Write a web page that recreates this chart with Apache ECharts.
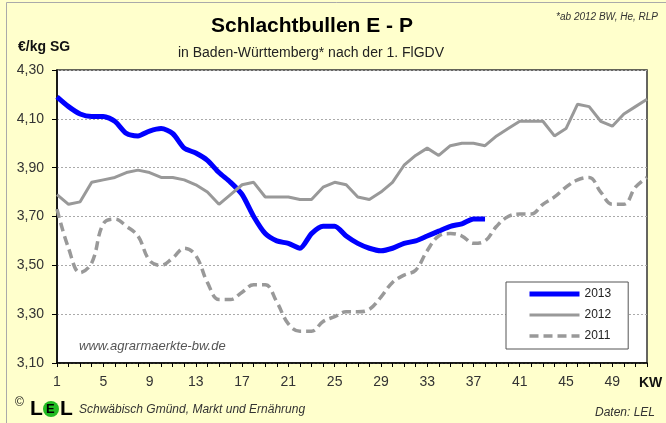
<!DOCTYPE html>
<html>
<head>
<meta charset="utf-8">
<script src="https://cdn.jsdelivr.net/npm/echarts@6/dist/echarts.min.js"></script>
<style>
html,body{margin:0;padding:0;background:#FFFFCC;}
#chart{width:666px;height:423px;}
</style>
</head>
<body>
<div id="chart"></div>
<script>
var weeks = [];
for (var i = 1; i <= 52; i++) weeks.push(String(i));

var yTicks = ['3,10','3,30','3,50','3,70','3,90','4,10','4,30'];

var data2013 = [4.19,4.15,4.12,4.11,4.11,4.09,4.04,4.03,4.05,4.06,4.04,3.98,3.96,3.93,3.88,3.84,3.79,3.70,3.63,3.60,
  3.59,3.57,3.63,3.66,3.66,3.62,3.59,3.57,3.56,3.57,3.59,3.60,3.62,3.64,3.66,3.67,3.69,3.69];

var data2012 = [3.79,3.75,3.76,3.84,3.85,3.86,3.88,3.89,3.88,3.86,3.86,3.85,3.83,3.80,3.75,3.79,3.83,3.84,3.78,3.78,
  3.78,3.77,3.77,3.82,3.84,3.83,3.78,3.77,3.80,3.84,3.91,3.95,3.98,3.95,3.99,4.00,4.00,3.99,4.03,4.06,
  4.09,4.09,4.09,4.03,4.06,4.16,4.15,4.09,4.07,4.12,4.15,4.18];

var data2011 = [3.73,3.57,3.47,3.51,3.67,3.69,3.66,3.62,3.52,3.50,3.53,3.57,3.54,3.43,3.36,3.36,3.39,3.42,3.42,3.35,
  3.26,3.23,3.23,3.27,3.29,3.31,3.31,3.32,3.37,3.43,3.46,3.48,3.56,3.62,3.63,3.62,3.59,3.60,3.66,3.70,
  3.71,3.71,3.75,3.78,3.82,3.85,3.86,3.80,3.75,3.75,3.82,3.86];

var FONT = 'Liberation Sans, Arial, sans-serif';
var chart = echarts.init(document.getElementById('chart'), null, {renderer: 'canvas'});

var option = {
  backgroundColor: '#FFFFCC',
  animation: false,
  textStyle: {fontFamily: FONT},
  grid: {left: 57, right: 19, top: 70, bottom: 60, show: true, backgroundColor: '#ffffff', borderColor: '#333333', borderWidth: 1.5},
  title: [
    {text: 'Schlachtbullen E - P', left: 307, top: 11, textAlign: 'center',
     textStyle: {fontFamily: FONT, fontSize: 21, fontWeight: 'bold', color: '#000'}},
    {text: 'in Baden-Württemberg* nach der 1. FlGDV', left: 306, top: 41, textAlign: 'center',
     textStyle: {fontFamily: FONT, fontSize: 14, fontWeight: 'normal', color: '#222'}}
  ],
  legend: {
    left: 506, top: 282, orient: 'vertical',
    backgroundColor: '#ffffff', borderColor: '#555555', borderWidth: 1,
    padding: [6, 17, 7, 21], itemWidth: 50, itemHeight: 14, itemGap: 9,
    itemStyle: {opacity: 0},
    lineStyle: {width: 'inherit'},
    textStyle: {fontFamily: FONT, fontSize: 12, color: '#222'},
    data: ['2013', '2012', '2011']
  },
  xAxis: {
    type: 'category', data: weeks, boundaryGap: false,
    axisLine: {lineStyle: {color: '#000', width: 1.5}},
    axisTick: {show: true, inside: false, length: 4, interval: 0, lineStyle: {color: '#000', width: 1}},
    axisLabel: {interval: function (idx) { return idx % 4 === 0; }, margin: 12,
      fontFamily: FONT, fontSize: 14, color: '#333'},
    splitLine: {show: false}
  },
  yAxis: {
    type: 'value', min: 3.1, max: 4.3, interval: 0.2,
    axisLine: {show: true, lineStyle: {color: '#000', width: 1.5}},
    axisTick: {show: true, inside: false, length: 5, lineStyle: {color: '#000'}},
    axisLabel: {margin: 13, fontFamily: FONT, fontSize: 14, color: '#333',
      formatter: function (v) {
        var idx = Math.round((v - 3.1) / 0.2);
        return yTicks[idx] !== undefined ? yTicks[idx] : v.toFixed(2).replace('.', ',');
      }},
    splitLine: {show: true, lineStyle: {color: '#aaa', type: [2, 2], width: 1}}
  },
  series: [
    {name: '2013', type: 'line', data: data2013, symbol: 'none', smooth: 0.25, z: 3,
     lineStyle: {color: '#0000FF', width: 5}, itemStyle: {color: '#0000FF'}},
    {name: '2012', type: 'line', data: data2012, symbol: 'none', smooth: false, z: 4,
     lineStyle: {color: '#999999', width: 3}, itemStyle: {color: '#999999'}},
    {name: '2011', type: 'line', data: data2011, symbol: 'none', smooth: 0.4, z: 5,
     lineStyle: {color: '#999999', width: 3.5, type: [9, 5]}, itemStyle: {color: '#999999'}}
  ],
  graphic: [
    {type: 'rect', z: -1, shape: {x: 6.5, y: 2.5, width: 700, height: 500}, style: {fill: 'none', stroke: '#aaaaaa', lineWidth: 1}},
    {type: 'text', left: 18, top: 40, style: {text: '€/kg SG', font: 'bold 14px ' + FONT, fill: '#111'}},
    {type: 'text', right: 8, top: 12, style: {text: '*ab 2012 BW, He, RLP', font: 'italic 10px ' + FONT, fill: '#333'}},
    {type: 'text', left: 79, top: 340, z: 10, style: {text: 'www.agrarmaerkte-bw.de', font: 'italic 13px ' + FONT, fill: '#555'}},
    {type: 'text', left: 639, top: 376, style: {text: 'KW', font: 'bold 14px ' + FONT, fill: '#111'}},
    {type: 'text', left: 15, top: 397, style: {text: '©', font: '12px ' + FONT, fill: '#111'}},
    {type: 'text', left: 30, top: 399, style: {text: 'L', font: 'bold 21px ' + FONT, fill: '#000'}},
    {type: 'circle', shape: {cx: 51, cy: 409, r: 8}, style: {fill: '#22bb22'}},
    {type: 'text', left: 46, top: 403, style: {text: 'E', font: 'bold 13px ' + FONT, fill: '#000'}},
    {type: 'text', left: 60, top: 399, style: {text: 'L', font: 'bold 21px ' + FONT, fill: '#000'}},
    {type: 'text', left: 79, top: 404, style: {text: 'Schwäbisch Gmünd, Markt und Ernährung', font: 'italic 12px ' + FONT, fill: '#333'}},
    {type: 'text', right: 11, top: 407, style: {text: 'Daten: LEL', font: 'italic 12px ' + FONT, fill: '#333'}}
  ]
};
chart.setOption(option);
</script>
</body>
</html>
